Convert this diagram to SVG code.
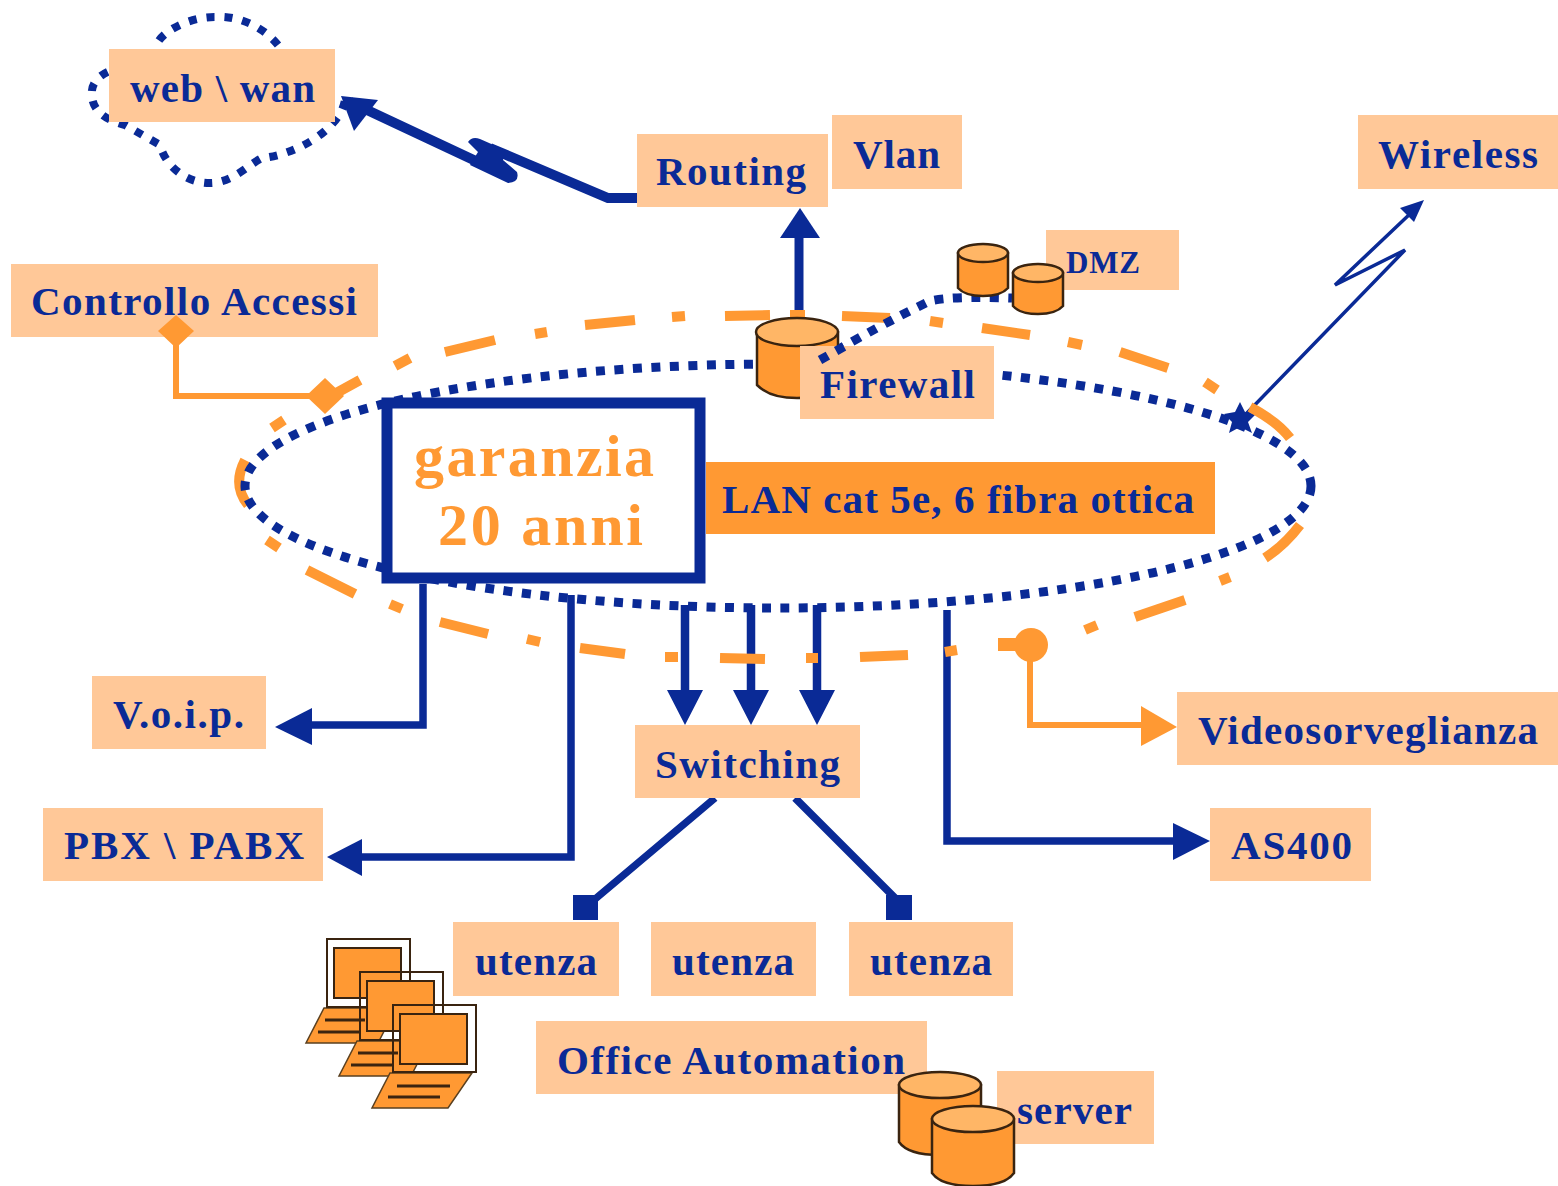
<svg xmlns="http://www.w3.org/2000/svg" width="1558" height="1186" viewBox="0 0 1558 1186">
<style>
.lb{fill:#ffc898}
text{font-family:"Liberation Serif","Times New Roman",serif;font-weight:bold;fill:#0a2a96;font-size:41px}
.ln{fill:none;stroke:#0a2a96;stroke-width:7.5}
.or{fill:none;stroke:#ff9933;stroke-width:6}
.dot{fill:none;stroke:#0a2a96;stroke-width:9;stroke-dasharray:9 9.5}
.cl{fill:none;stroke:#0a2a96;stroke-width:8;stroke-dasharray:8 10}
.hb{fill:#0a2a96}.ho{fill:#ff9933}
.cy{fill:#ff9933;stroke:#3a2410;stroke-width:2.5}
.ct{fill:#ffb666;stroke:#3a2410;stroke-width:2.5}
.fr{fill:none;stroke:#3a2410;stroke-width:2}
.sc{fill:#ff9933;stroke:#3a2410;stroke-width:2}
.kb{fill:#ff9933;stroke:#5a4020;stroke-width:1.5}
.kl{stroke:#3a2410;stroke-width:3;fill:none}
</style>
<rect width="1558" height="1186" fill="#fff"/>
<g id="cloud"><path class="cl" d="M278 45C262 25 235 15 215 17C190 17 165 30 158 42M125 67C105 70 90 80 92 95C92 110 105 120 125 125L160 145C165 165 185 183 210 183C232 183 248 165 262 158C295 155 340 130 345 100"/></g>
<g id="connectors">
<path class="ln" style="stroke-width:10" d="M637 198H608L490 148M495 170L350 102"/>
<path class="hb" d="M468 142Q472 136 480 139L505 150L503 160L517 172Q520 182 508 183L470 165L478 152Z"/>
<path class="hb" d="M341 96L378 100L354 131Z"/>
<path class="ln" style="stroke-width:9" d="M799 312V235"/><path class="hb" d="M800 208L820 238H780Z"/>
<path fill="none" stroke="#0a2a96" stroke-width="3.5" d="M1245 415L1405 250L1335 285L1412 212"/><path class="hb" d="M1424 200L1414 222L1400 208Z"/>
<path class="hb" d="M1240 402L1245 412L1256 414L1248 422L1252 433L1240 427L1229 433L1232 422L1224 414L1235 412Z"/>
<path class="or" d="M176 331V396H325"/>
<path class="ln" d="M423 584V725H305"/><path class="hb" d="M275 727L312 708V745Z"/>
<path class="ln" d="M571 595V857H355"/><path class="hb" d="M327 857L362 839V876Z"/>
<path class="ln" style="stroke-width:8.5" d="M685 605V695M751 605V695M817 605V695"/>
<path class="hb" d="M685 725L667 690H703ZM751 725L733 690H769ZM817 725L799 690H835Z"/>
<path class="ln" d="M715 798L588 905M795 798L897 900"/>
<rect class="hb" x="573" y="895" width="25" height="25"/><rect class="hb" x="886" y="895" width="26" height="25"/>
<path class="ln" d="M947 610V841H1180"/><path class="hb" d="M1210 841L1173 823V860Z"/>
<path class="or" d="M1030 645V725H1145"/><path class="ho" d="M1177 727L1141 706V746Z"/>
</g>
<g id="rings">
<path class="or" style="stroke-width:10" d="M445 352L495 340M535 334L547 332M585 325L635 320M672 317L685 316M725 316L770 315M790 315L805 315M842 316L890 318M930 321L943 323M982 328L1030 335M1068 342L1082 345M1120 352L1168 368M1205 382L1217 390M1250 407Q1278 422 1290 438M1300 525Q1285 545 1265 558M1230 577L1220 581M1185 600L1135 617M1097 625L1085 630M1045 640L1000 645M957 650L945 652M908 655L860 657M818 658L806 658M765 659L720 658M678 657L665 657M625 654L580 648M540 642L527 639M488 634L440 622M402 609L390 604M355 594L307 570M279 548L267 540M248 505Q232 485 245 460M272 428L284 420M320 402L360 380M395 366L410 358"/>
<ellipse class="dot" cx="778" cy="486" rx="533" ry="122"/>
<path class="dot" d="M820 360Q880 325 930 301Q950 296 1012 298"/>
<path class="ho" d="M325 378L344 396L325 414L306 396Z"/>
<circle class="ho" cx="1031" cy="645" r="17"/><rect class="ho" x="998" y="638" width="25" height="13"/>
</g>
<g id="firewall">
<path class="cy" d="M757 332V385Q770 398 797 398Q825 398 838 385V332Z"/><ellipse class="ct" cx="797" cy="332" rx="41" ry="14"/>
<rect class="lb" x="800" y="346" width="194" height="73"/>
<path class="dot" d="M820 360L845 346"/>
<text x="820" y="398" textLength="155">Firewall</text>
</g>
<g id="web"><rect class="lb" x="109" y="49" width="226" height="73"/><text x="130" y="102" textLength="185">web \ wan</text></g>
<g id="routing"><rect class="lb" x="637" y="134" width="191" height="73"/><text x="656" y="185" textLength="150">Routing</text></g>
<g id="vlan"><rect class="lb" x="832" y="115" width="130" height="74"/><text x="853" y="168" textLength="87">Vlan</text></g>
<g id="wireless"><rect class="lb" x="1358" y="115" width="200" height="74"/><text x="1378" y="168" textLength="160">Wireless</text></g>
<g id="dmz"><rect class="lb" x="1046" y="230" width="133" height="60"/>
<path class="cy" d="M958 253V288Q965 296 983 296Q1001 296 1008 288V253Z"/><ellipse class="ct" cx="983" cy="253" rx="25" ry="9"/>
<path class="cy" d="M1013 273V306Q1020 314 1038 314Q1056 314 1063 306V273Z"/><ellipse class="ct" cx="1038" cy="273" rx="25" ry="9"/>
<text x="1066" y="273" textLength="74" style="font-size:31px">DMZ</text></g>
<g id="controllo"><rect class="lb" x="11" y="264" width="367" height="73"/><path class="ho" d="M176 315L194 331L176 348L158 331Z"/><text x="31" y="315" textLength="326">Controllo Accessi</text></g>
<g id="garanzia"><rect x="387" y="403" width="313" height="175" fill="#fff" stroke="#0a2a96" stroke-width="11"/>
<text x="414" y="476" textLength="240" style="font-size:60px;fill:#ff9933">garanzia</text>
<text x="438" y="545" textLength="205" style="font-size:60px;fill:#ff9933">20 anni</text></g>
<g id="lan"><rect x="706" y="462" width="509" height="72" fill="#ff9933"/><text x="722" y="513" textLength="472">LAN cat 5e, 6 fibra ottica</text></g>
<g id="voip"><rect class="lb" x="92" y="676" width="174" height="73"/><text x="113" y="728" textLength="131">V.o.i.p.</text></g>
<g id="switching"><rect class="lb" x="635" y="725" width="225" height="73"/><text x="655" y="778" textLength="185">Switching</text></g>
<g id="video"><rect class="lb" x="1177" y="692" width="381" height="73"/><text x="1198" y="744" textLength="340">Videosorveglianza</text></g>
<g id="pbx"><rect class="lb" x="43" y="808" width="280" height="73"/><text x="64" y="859" textLength="240">PBX \ PABX</text></g>
<g id="as400"><rect class="lb" x="1210" y="808" width="161" height="73"/><text x="1231" y="859" textLength="121">AS400</text></g>
<g id="utenza1"><rect class="lb" x="453" y="922" width="166" height="74"/><text x="475" y="975" textLength="122">utenza</text></g>
<g id="utenza2"><rect class="lb" x="651" y="922" width="165" height="74"/><text x="672" y="975" textLength="122">utenza</text></g>
<g id="utenza3"><rect class="lb" x="849" y="922" width="164" height="74"/><text x="870" y="975" textLength="122">utenza</text></g>
<g id="office"><rect class="lb" x="536" y="1021" width="391" height="73"/><text x="557" y="1074" textLength="348">Office Automation</text></g>
<g id="server"><rect class="lb" x="997" y="1071" width="157" height="73"/>
<path class="cy" d="M899 1085V1142Q908 1155 940 1155Q972 1155 981 1142V1085Z"/><ellipse class="ct" cx="940" cy="1085" rx="41" ry="13"/>
<path class="cy" d="M932 1119V1173Q941 1186 973 1186Q1005 1186 1014 1173V1119Z"/><ellipse class="ct" cx="973" cy="1119" rx="41" ry="13"/>
<text x="1017" y="1124" textLength="115">server</text></g>
<g id="laptops">
<path class="kb" d="M324 1008H396L378 1043H306Z"/><path class="kl" d="M325 1020H365M318 1032H360"/>
<rect class="fr" x="327" y="939" width="83" height="68"/><rect class="sc" x="334" y="948" width="67" height="50"/>
<path class="kb" d="M357 1041H429L411 1076H339Z"/><path class="kl" d="M358 1053H398M351 1065H393"/>
<rect class="fr" x="360" y="972" width="83" height="68"/><rect class="sc" x="367" y="981" width="67" height="50"/>
<path class="kb" d="M390 1073H472L448 1108H372Z"/><path class="kl" d="M397 1086H450M388 1097H440"/>
<rect class="fr" x="393" y="1005" width="83" height="67"/><rect class="sc" x="400" y="1014" width="67" height="50"/>
</g>
</svg>
